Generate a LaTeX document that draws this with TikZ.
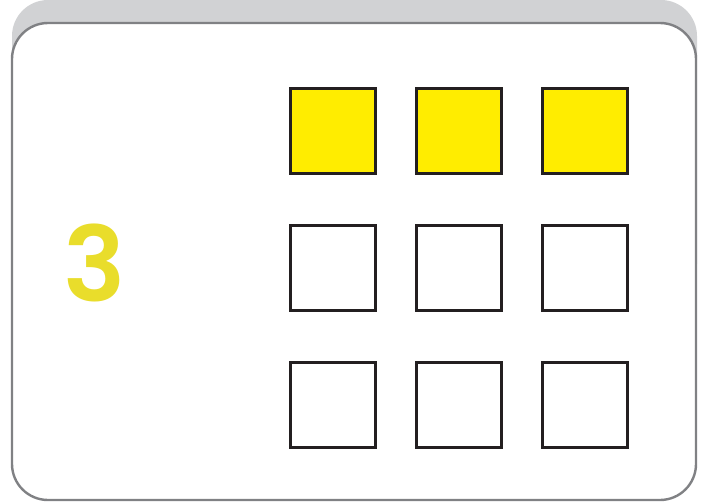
\documentclass[tikz,border=0pt]{standalone}
\usepackage{fontspec}
\newfontfamily\numfont{Poppins}[UprightFont=* SemiBold]
\definecolor{backgray}{HTML}{D1D2D4}
\definecolor{cardline}{HTML}{808184}
\definecolor{sqline}{HTML}{231F20}
\definecolor{sqyellow}{HTML}{FFED00}
\definecolor{numyellow}{HTML}{E9DD2B}
\begin{document}
\begin{tikzpicture}[x=1pt,y=-1pt,
  cell/.style={draw=sqline,line width=2.6pt,minimum width=85pt,minimum height=85pt,inner sep=0pt,anchor=north west},
  filled/.style={cell,fill=sqyellow}]
\useasboundingbox (0,0) rectangle (705,503);
\fill[backgray,rounded corners=36pt] (12,0) rectangle (697,300);
\draw[cardline,fill=white,line width=2.4pt,rounded corners=36pt] (12,23) rectangle (696,500);
\node[filled] (a1) at (289,87) {};
\node[filled] (a2) at (415,87) {};
\node[filled] (a3) at (541,87) {};
\node[cell] (b1) at (289,224) {};
\node[cell] (b2) at (415,224) {};
\node[cell] (b3) at (541,224) {};
\node[cell] (c1) at (289,361) {};
\node[cell] (c2) at (415,361) {};
\node[cell] (c3) at (541,361) {};
\node[text=numyellow,font=\numfont\fontsize{104}{104}\selectfont,inner sep=0pt] (n) at (95,263) {3};
\end{tikzpicture}
\end{document}
